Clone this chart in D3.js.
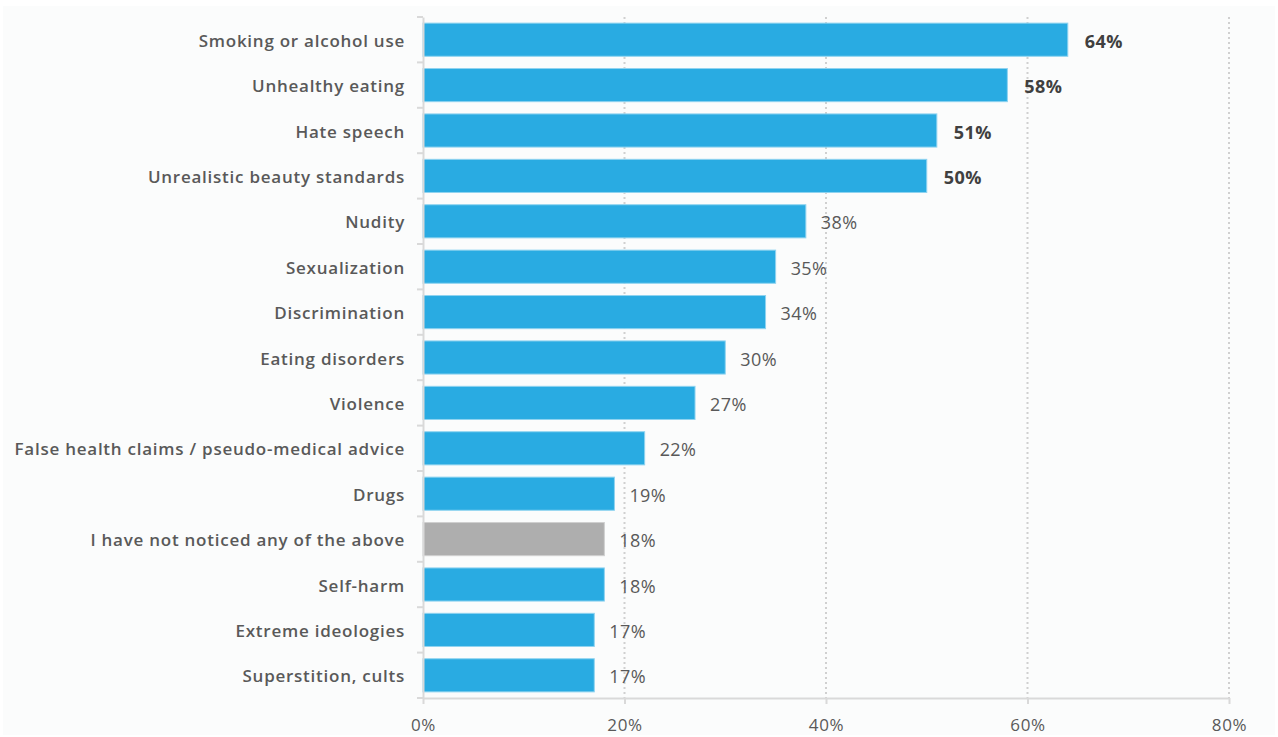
<!DOCTYPE html>
<html>
<head>
<meta charset="utf-8">
<script src="https://cdn.jsdelivr.net/npm/d3@7"></script>
<style>
  body { margin: 0; background: #fff; }
  svg { display: block; font-family: "Open Sans", "DejaVu Sans", sans-serif; }
</style>
</head>
<body>
<svg></svg>
<script>
const width = 1278
const height = 737

const categories = [
  "Smoking or alcohol use",
  "Unhealthy eating",
  "Hate speech",
  "Unrealistic beauty standards",
  "Nudity",
  "Sexualization",
  "Discrimination",
  "Eating disorders",
  "Violence",
  "False health claims / pseudo-medical advice",
  "Drugs",
  "I have not noticed any of the above",
  "Self-harm",
  "Extreme ideologies",
  "Superstition, cults"
]
const values = [64, 58, 51, 50, 38, 35, 34, 30, 27, 22, 19, 18, 18, 17, 17]
const boldTop = 4
const greyCategory = "I have not noticed any of the above"
const ticks = [0, 20, 40, 60, 80]

const data = categories.map((c, i) => ({ name: c, value: values[i], i: i }))

const svg = d3.select('svg')
  .attr('width', width)
  .attr('height', height)

svg.append("rect")
  .attr("x", 3).attr("y", 6)
  .attr("width", width - 6).attr("height", height - 8)
  .attr("fill", "#fbfcfc")

const margin = { left: 423, right: 49, top: 17, bottom: 39 }

const x = d3.scaleLinear()
  .domain([0, 80])
  .range([margin.left, width - margin.right])

const y = d3.scaleBand()
  .domain(categories)
  .range([margin.top, height - margin.bottom])
  .paddingInner(0.27)
  .paddingOuter(0.135)

const yBottom = height - margin.bottom

// dotted gridlines
svg.append("g")
  .selectAll("line")
  .data(ticks.filter(t => t > 0))
  .enter()
  .append("line")
  .attr("x1", d => x(d)).attr("x2", d => x(d))
  .attr("y1", margin.top).attr("y2", yBottom)
  .attr("stroke", "#d0d0d0")
  .attr("stroke-width", 2)
  .attr("stroke-dasharray", "2,3")

// bars
svg.append("g")
  .selectAll("rect")
  .data(data)
  .enter()
  .append("rect")
  .attr("x", x(0))
  .attr("y", d => y(d.name))
  .attr("width", d => x(d.value) - x(0))
  .attr("height", y.bandwidth())
  .attr("fill", d => d.name === greyCategory ? "#aeaeae" : "#29abe2")
  .attr("stroke", d => d.name === greyCategory ? "#cfcfcf" : "#8fd3f0")
  .attr("stroke-width", 1)

// value labels
svg.append("g")
  .selectAll("text")
  .data(data)
  .enter()
  .append("text")
  .attr("x", d => x(d.value) + (d.i < boldTop ? 17 : 15))
  .attr("y", d => y(d.name) + y.bandwidth() / 2)
  .attr("dy", "0.45em")
  .attr("font-size", 18)
  .attr("letter-spacing", 0.4)
  .attr("font-weight", d => d.i < boldTop ? "bold" : "normal")
  .attr("fill", d => d.i < boldTop ? "#404040" : "#595959")
  .text(d => d.value + "%")

// y axis
const yAxis = svg.append("g")
  .attr("transform", `translate(${x(0)},0)`)
  .call(d3.axisLeft(y).tickSize(0).tickPadding(18))
yAxis.select(".domain").attr("stroke", "#d9d9d9").attr("stroke-width", 2)
yAxis.selectAll("text")
  .attr("font-size", 17)
  .attr("font-weight", 600)
  .attr("letter-spacing", 0.75)
  .attr("dy", "0.42em")
  .attr("fill", "#595959")
  .attr("font-family", "\"Open Sans\", sans-serif")

// category boundary ticks
const step = y.step()
const bounds = d3.range(categories.length + 1).map(i => margin.top + i * step)
svg.append("g")
  .selectAll("line")
  .data(bounds)
  .enter()
  .append("line")
  .attr("x1", x(0) - 6).attr("x2", x(0))
  .attr("y1", d => d).attr("y2", d => d)
  .attr("stroke", "#d9d9d9")
  .attr("stroke-width", 2)

// x axis
const xAxis = svg.append("g")
  .attr("transform", `translate(0,${yBottom})`)
  .call(d3.axisBottom(x).tickValues(ticks).tickFormat(d => d + "%").tickSize(6).tickPadding(15).tickSizeOuter(0))
xAxis.select(".domain").attr("stroke", "#d9d9d9").attr("stroke-width", 2)
xAxis.selectAll(".tick line").attr("stroke", "#d9d9d9").attr("stroke-width", 2)
xAxis.selectAll("text")
  .attr("font-size", 17)
  .attr("letter-spacing", 0.6)
  .attr("fill", "#595959")
  .attr("font-family", "\"Open Sans\", sans-serif")
</script>
</body>
</html>
